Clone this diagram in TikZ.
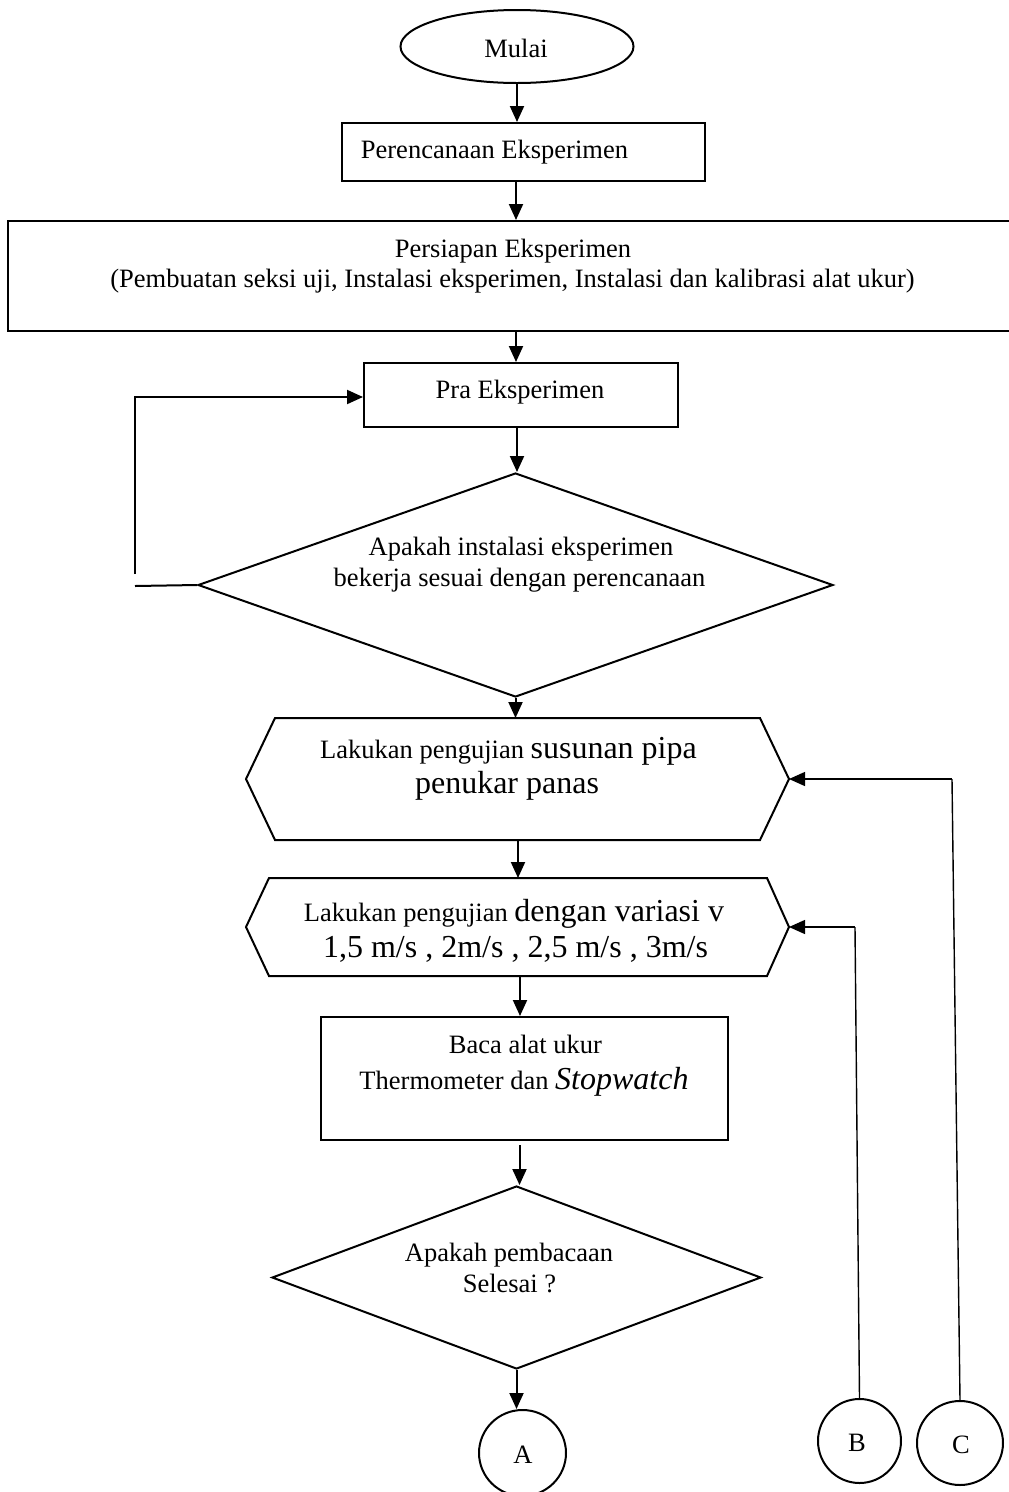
\documentclass[tikz,border=0pt]{standalone}
\usepackage{fontspec}
\setmainfont{Liberation Serif}
\usetikzlibrary{arrows.meta,shapes.geometric}
\newcommand\nfont{\fontsize{26.5}{31}\selectfont}
\newcommand\lfont{\fontsize{32}{36}\selectfont}
\begin{document}
\begin{tikzpicture}[x=1pt,y=-1pt,line width=2pt,
  box/.style={draw,rectangle,inner sep=0pt},
  ghost/.style={rectangle,inner sep=0pt},
  dia/.style={draw,diamond,inner sep=0pt},
  oval/.style={draw,ellipse,inner sep=0pt},
  txt/.style={anchor=base,inner sep=0pt,font=\nfont},
  arr/.style={-{Triangle[length=16pt,width=14pt]},line width=2pt},
  thinl/.style={line width=1.4pt}]
\useasboundingbox (0,0) rectangle (1009,1492);

% shapes
\node[oval,minimum width=233pt,minimum height=73pt] (mulai) at (517,46.5) {};
\node[box,minimum width=363pt,minimum height=58pt] (per) at (523.5,152) {};
\node[box,minimum width=1007pt,minimum height=110pt] (big) at (511.5,276) {};
\node[box,minimum width=314pt,minimum height=64pt] (pra) at (521,395) {};
\node[dia,minimum width=635pt,minimum height=224pt] (d1) at (515.5,585) {};
\node[ghost,minimum width=541pt,minimum height=120pt] (h1) at (517.5,779) {};
\draw (h1.west) -- ([xshift=29pt]h1.north west) -- ([xshift=-29pt]h1.north east) -- (h1.east)
  -- ([xshift=-29pt]h1.south east) -- ([xshift=29pt]h1.south west) -- cycle;
\node[ghost,minimum width=541pt,minimum height=96pt] (h2) at (517.5,927) {};
\draw (h2.west) -- ([xshift=23pt]h2.north west) -- ([xshift=-22pt]h2.north east) -- (h2.east)
  -- ([xshift=-22pt]h2.south east) -- ([xshift=23pt]h2.south west) -- cycle;
\node[box,minimum width=407pt,minimum height=123pt] (baca) at (524.5,1078.5) {};
\node[dia,minimum width=489pt,minimum height=183pt] (d2) at (516.5,1277.5) {};
\node[oval,minimum width=87pt,minimum height=86pt] (A) at (522.5,1453) {};
\node[oval,minimum width=83pt,minimum height=84pt] (B) at (859.5,1441) {};
\node[oval,minimum width=86pt,minimum height=84pt] (C) at (960,1443) {};

% texts
\node[txt] (tmulai) at (516,57) {Mulai};
\node[txt,anchor=base east] (tper) at (629,158) {Perencanaan Eksperimen};
\node[txt] (tbig1) at (513,257) {Persiapan Eksperimen};
\node[txt] (tbig2) at (512.5,287) {(Pembuatan seksi uji, Instalasi eksperimen, Instalasi dan kalibrasi alat ukur)};
\node[txt] (tpra) at (520,398) {Pra Eksperimen};
\node[txt] (td11) at (521,555) {Apakah instalasi eksperimen};
\node[txt] (td12) at (519.5,586) {bekerja sesuai dengan perencanaan};
\node[txt] (th11) at (508.5,758) {Lakukan pengujian {\lfont susunan pipa}};
\node[txt,font=\lfont] (th12) at (507,793) {penukar panas};
\node[txt] (th21) at (514,921) {Lakukan pengujian {\lfont dengan variasi v}};
\node[txt,font=\lfont] (th22) at (515.5,957) {1,5 m/s , 2m/s , 2,5 m/s , 3m/s};
\node[txt] (tb1) at (525.5,1053) {Baca alat ukur};
\node[txt] (tb2) at (524,1089) {Thermometer dan {\lfont\itshape Stopwatch}};
\node[txt] (td21) at (509,1261) {Apakah pembacaan};
\node[txt] (td22) at (509.5,1292) {Selesai ?};
\node[txt] (tA) at (523,1463) {A};
\node[txt] (tB) at (857,1451) {B};
\node[txt] (tC) at (961,1453) {C};

% connectors
\draw[arr] (mulai.south) -- (mulai.south |- per.north);
\draw[arr] (516,181) coordinate (p1) -- (p1 |- big.north);
\draw[arr] (516,331) coordinate (p2) -- (p2 |- pra.north);
\draw[arr] (517,427) coordinate (p3) -- (p3 |- d1.north);
\draw[arr] (d1.south) -- (d1.south |- h1.north);
\draw[arr] (518,839) coordinate (p4) -- (p4 |- h2.north);
\draw[arr] (520,975) coordinate (p5) -- (p5 |- baca.north);
\draw[arr] (519.5,1145) coordinate (p6) -- (p6 |- d2.north);
\draw[arr] (d2.south) -- (d2.south |- A.north);
% loop back
\coordinate (lb) at (135,574);
\coordinate (lt) at (135,397);
\draw[arr] (lb) -- (lt) -- (lt -| pra.west);
\coordinate (lh) at (135,586);
\draw (lh) -- (d1.west);
% B and C returns
\coordinate (bt) at (855,927);
\draw[thinl] (B.north) -- (bt);
\draw[arr,thinl] (bt) -- (h2.east);
\coordinate (ct) at (952,779);
\draw[thinl] (C.north) -- (ct);
\draw[arr,thinl] (ct) -- (h1.east);
\end{tikzpicture}
\end{document}
